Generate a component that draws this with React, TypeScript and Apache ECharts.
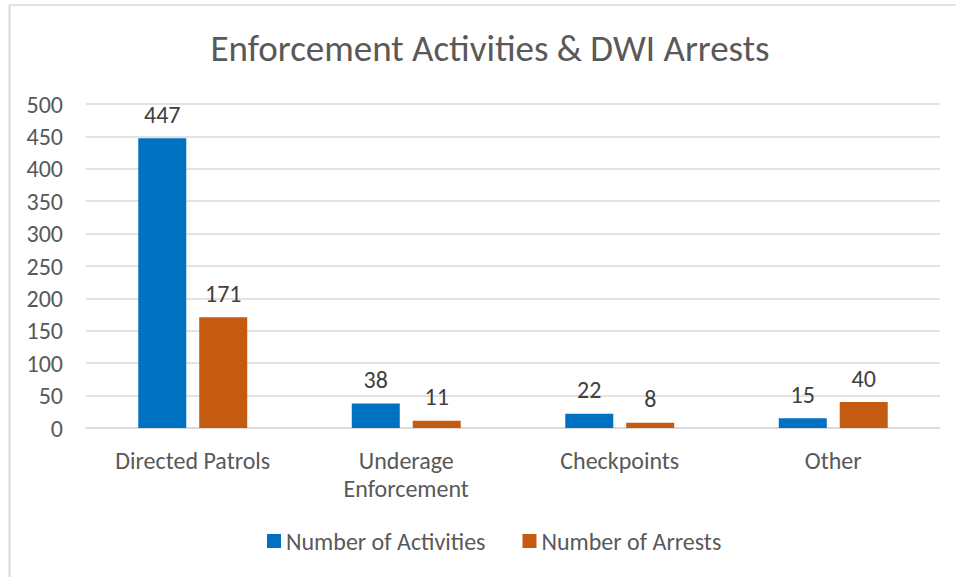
import React, { useEffect, useRef } from "react";
import * as echarts from "echarts";

const title = "Enforcement Activities & DWI Arrests";
const categories = ["Directed Patrols", "Underage\nEnforcement", "Checkpoints", "Other"];
const seriesNames = ["Number of Activities", "Number of Arrests"];
const activities = [447, 38, 22, 15];
const arrests = [171, 11, 8, 40];
const yMin = 0;
const yMax = 500;
const yInterval = 50;

const FONT = "Carlito, Lato, sans-serif";
const BLUE = "#0070C0";
const ORANGE = "#C55A11";
const FS = 24;

export default function App() {
  const ref = useRef<HTMLDivElement>(null);
  useEffect(() => {
    if (!ref.current) return;
    const chart = echarts.init(ref.current, null, { renderer: "svg" });
    chart.setOption({
      animation: false,
      backgroundColor: "#ffffff",
      textStyle: { fontFamily: FONT },
      graphic: [
        { type: "line", shape: { x1: 9.5, y1: 5, x2: 9.5, y2: 577 }, style: { stroke: "#d9d9d9", lineWidth: 2 } },
        { type: "line", shape: { x1: 9.5, y1: 5, x2: 956, y2: 5 }, style: { stroke: "#d9d9d9", lineWidth: 1.5 } },
        {
          type: "text",
          x: 490,
          y: 48,
          style: {
            text: title,
            fill: "#595959",
            font: `37px ${FONT}`,
            textAlign: "center",
            textVerticalAlign: "middle",
          },
        },
      ],
      legend: {
        data: seriesNames,
        left: 267,
        top: 529,
        padding: 0,
        itemWidth: 14,
        itemHeight: 14,
        itemGap: 37,
        icon: "rect",
        textStyle: { color: "#595959", fontSize: FS, fontFamily: FONT },
      },
      grid: { left: 86, right: 16, top: 104, bottom: 149, containLabel: false },
      xAxis: {
        type: "category",
        data: categories,
        axisLine: { show: true, lineStyle: { color: "#d9d9d9", width: 1.5 } },
        axisTick: { show: false },
        axisLabel: {
          interval: 0,
          margin: 18,
          color: "#595959",
          fontSize: FS,
          lineHeight: 28,
          fontFamily: FONT,
        },
      },
      yAxis: {
        type: "value",
        min: yMin,
        max: yMax,
        interval: yInterval,
        axisLine: { show: false },
        axisTick: { show: false },
        axisLabel: { color: "#595959", fontSize: FS, margin: 23, fontFamily: FONT },
        splitLine: { lineStyle: { color: "#d9d9d9", width: 1.5 } },
      },
      series: [
        {
          name: seriesNames[0],
          type: "bar",
          data: activities,
          barWidth: 48,
          barGap: "27%",
          itemStyle: { color: BLUE },
          label: { show: true, position: "top", distance: 12, color: "#404040", fontSize: FS, fontFamily: FONT },
        },
        {
          name: seriesNames[1],
          type: "bar",
          data: arrests,
          barWidth: 48,
          barGap: "27%",
          itemStyle: { color: ORANGE },
          label: { show: true, position: "top", distance: 12, color: "#404040", fontSize: FS, fontFamily: FONT },
        },
      ],
    });
    return () => chart.dispose();
  }, []);
  return (
    <div
      ref={ref}
      style={{ position: "fixed", left: 0, top: 0, width: 956, height: 577 }}
    />
  );
}
